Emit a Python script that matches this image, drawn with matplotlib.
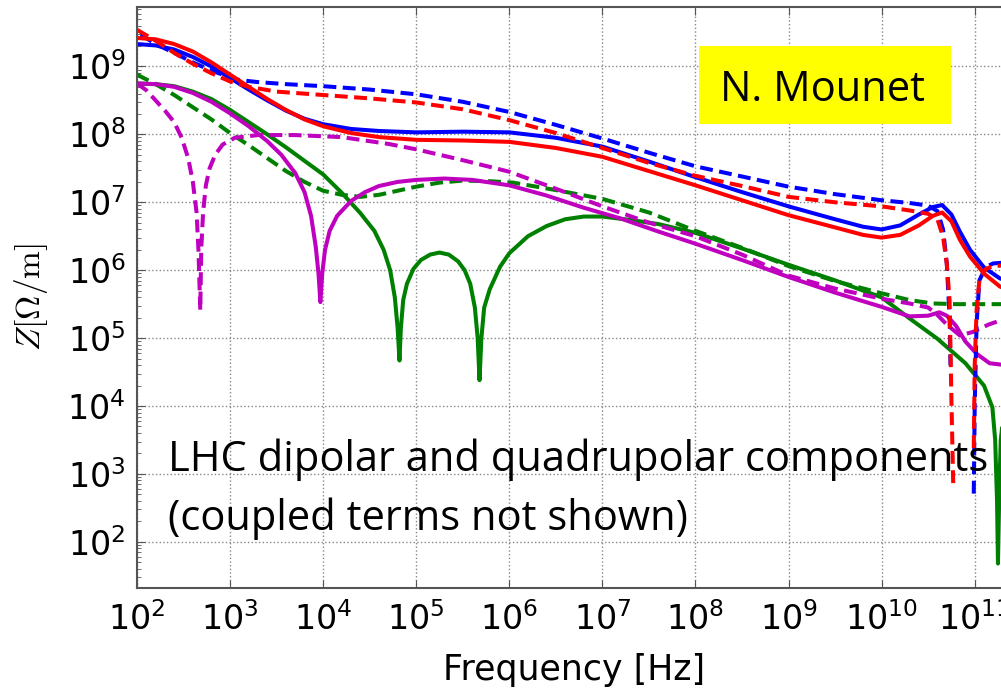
import numpy as np
import matplotlib
matplotlib.use("Agg")
import matplotlib.pyplot as plt
from matplotlib.patches import Rectangle

# values, as log10(f [Hz]) and log10(Z [Ohm/m])
lf_red = [2.0, 2.2, 2.4, 2.6, 2.8, 3.0, 3.2, 3.4, 3.6, 3.8, 4.0, 4.3, 4.6, 5.0, 5.5, 6.0, 6.5, 7.0, 7.5, 8.0, 8.5,
          9.0, 9.5, 9.8, 10.0, 10.2, 10.4, 10.55, 10.65, 10.75, 10.84, 10.95, 11.1, 11.27, 11.4]
lz_red = [9.42, 9.40, 9.33, 9.22, 9.06, 8.88, 8.70, 8.52, 8.36, 8.22, 8.12, 8.02, 7.96, 7.92, 7.91, 7.89, 7.80, 7.67,
          7.46, 7.25, 7.03, 6.81, 6.63, 6.52, 6.48, 6.52, 6.66, 6.80, 6.85, 6.72, 6.45, 6.20, 5.95, 5.76, 5.68]

lf_blue = [2.0, 2.2, 2.4, 2.6, 2.8, 3.0, 3.2, 3.4, 3.6, 3.8, 4.0, 4.3, 4.6, 5.0, 5.5, 6.0, 6.5, 7.0, 7.5, 8.0, 8.5,
           9.0, 9.5, 9.8, 10.0, 10.2, 10.4, 10.55, 10.65, 10.75, 10.84, 10.95, 11.1, 11.27, 11.4]
lz_blue = [9.33, 9.31, 9.25, 9.14, 9.00, 8.83, 8.66, 8.50, 8.35, 8.23, 8.15, 8.08, 8.05, 8.03, 8.04, 8.03, 7.95, 7.82,
           7.60, 7.37, 7.15, 6.94, 6.75, 6.64, 6.60, 6.66, 6.82, 6.93, 6.96, 6.82, 6.57, 6.30, 6.04, 5.88, 5.82]

lf_red_q = [2.0, 2.2, 2.4, 2.6, 2.8, 3.0, 3.2, 3.5, 4.0, 4.5, 5.0, 5.5, 6.0, 6.5, 7.0, 7.5, 8.0, 8.5, 9.0, 9.5, 10.0,
            10.3, 10.5, 10.6, 10.66, 10.7, 10.73, 10.75, 10.77,
            np.nan, 10.99, 11.0, 11.02, 11.05, 11.12, 11.2, 11.4]
lz_red_q = [9.54, 9.38, 9.20, 9.04, 8.90, 8.78, 8.70, 8.63, 8.58, 8.53, 8.47, 8.37, 8.21, 8.02, 7.80, 7.58, 7.39, 7.24,
            7.08, 7.00, 6.94, 6.88, 6.83, 6.75, 6.49, 6.10, 5.56, 4.08, 2.80,
            np.nan, 3.38, 4.6, 5.4, 5.85, 6.02, 6.06, 6.08]

lf_blue_q = [2.04, 2.2, 2.4, 2.6, 2.8, 3.0, 3.1, 3.3, 3.6, 4.0, 4.5, 5.0, 5.5, 6.0, 6.5, 7.0, 7.5, 8.0, 8.5, 9.0, 9.5,
             10.0, 10.3, 10.5, 10.6, 10.66, 10.7, 10.73, 10.74,
             np.nan, 10.99, 11.0, 11.02, 11.05, 11.12, 11.2, 11.4]
lz_blue_q = [9.47, 9.33, 9.20, 9.06, 8.94, 8.84, 8.80, 8.77, 8.74, 8.71, 8.66, 8.59, 8.48, 8.33, 8.14, 7.94, 7.73, 7.53,
             7.38, 7.23, 7.12, 7.03, 6.99, 6.95, 6.87, 6.60, 6.10, 5.31, 4.6,
             np.nan, 2.71, 4.0, 5.2, 5.85, 6.05, 6.10, 6.12]

lf_green = [2.0, 2.2, 2.4, 2.6, 2.8, 3.0, 3.2, 3.4, 3.6, 3.8, 4.0, 4.2, 4.4, 4.55, 4.65, 4.72, 4.77, 4.80, 4.82, 4.835,
            4.86, 4.9, 4.97, 5.05, 5.15, 5.25, 5.35, 5.45, 5.52, 5.58, 5.63, 5.66, 5.68, 5.70, 5.73, 5.79, 5.9, 6.0,
            6.2, 6.4, 6.6, 6.8, 7.0, 7.3, 7.6, 8.0, 8.5, 9.0, 9.5, 10.0, 10.3, 10.6, 10.9, 11.1, 11.19, 11.22, 11.24,
            11.25, 11.265, 11.28, 11.32, 11.4]
lz_green = [8.75, 8.74, 8.71, 8.63, 8.52, 8.36, 8.18, 8.00, 7.81, 7.61, 7.41, 7.14, 6.84, 6.58, 6.30, 6.00, 5.60, 5.15,
            4.67, 5.15, 5.56, 5.80, 6.02, 6.15, 6.23, 6.26, 6.23, 6.13, 6.00, 5.80, 5.45, 5.00, 4.38, 5.00, 5.45, 5.72,
            6.05, 6.25, 6.50, 6.65, 6.75, 6.79, 6.79, 6.74, 6.68, 6.55, 6.32, 6.08, 5.85, 5.60, 5.29, 4.99, 4.63, 4.30,
            3.98, 3.50, 2.60, 1.68, 2.80, 3.50, 4.00, 4.10]

lf_green_q = [2.0, 2.2, 2.4, 2.6, 2.8, 3.0, 3.2, 3.4, 3.6, 3.8, 4.0, 4.2, 4.4, 4.6, 4.8, 5.0, 5.25, 5.5, 5.8, 6.04,
              6.5, 7.0, 7.5, 8.0, 8.5, 9.0, 9.5, 10.0, 10.3, 10.55, 10.8, 11.4]
lz_green_q = [8.88, 8.74, 8.58, 8.40, 8.22, 8.02, 7.84, 7.65, 7.46, 7.30, 7.17, 7.11, 7.08, 7.11, 7.17, 7.23, 7.29,
              7.32, 7.31, 7.29, 7.18, 7.05, 6.85, 6.58, 6.33, 6.06, 5.84, 5.66, 5.56, 5.51, 5.50, 5.50]

lf_mag = [2.0, 2.2, 2.4, 2.6, 2.8, 3.0, 3.2, 3.4, 3.55, 3.7, 3.8, 3.87, 3.92, 3.95, 3.97, 3.99, 4.02, 4.07, 4.15, 4.3,
          4.45, 4.6, 4.8, 5.0, 5.3, 5.6, 6.0, 6.4, 6.8, 7.2, 7.6, 8.0, 8.5, 9.0, 9.5, 10.0, 10.3, 10.5, 10.62, 10.7,
          10.8, 10.9, 11.02, 11.16, 11.4]
lz_mag = [8.75, 8.74, 8.70, 8.61, 8.48, 8.31, 8.12, 7.90, 7.70, 7.43, 7.15, 6.80, 6.35, 5.95, 5.53, 5.95, 6.30, 6.58,
          6.80, 7.02, 7.15, 7.24, 7.30, 7.33, 7.35, 7.33, 7.25, 7.10, 6.92, 6.76, 6.57, 6.39, 6.15, 5.90, 5.67, 5.46,
          5.32, 5.33, 5.38, 5.33, 5.18, 4.95, 4.77, 4.63, 4.59]

lf_mag_q = [2.0, 2.1, 2.2, 2.3, 2.4, 2.48, 2.55, 2.6, 2.64, 2.66, 2.68, 2.69, 2.71, 2.74, 2.78, 2.84, 2.92, 3.05, 3.3,
            3.7, 4.2, 4.7, 5.0, 5.5, 6.0, 6.5, 7.0, 7.5, 8.0, 8.5, 9.0, 9.5, 10.0, 10.3, 10.5, 10.6, 10.7, 10.84,
            10.98, 11.15, 11.4]
lz_mag_q = [8.75, 8.65, 8.50, 8.35, 8.18, 7.95, 7.65, 7.30, 6.85, 6.30, 5.41, 6.30, 6.85, 7.25, 7.50, 7.70, 7.85,
            7.95, 7.99, 7.99, 7.96, 7.86, 7.78, 7.62, 7.45, 7.20, 6.94, 6.70, 6.50, 6.23, 5.92, 5.73, 5.58, 5.51,
            5.45, 5.34, 5.20, 5.04, 5.09, 5.20, 5.32]

fig = plt.figure(figsize=(10.01, 6.88), dpi=100)
ax = fig.add_axes([137 / 1001, 1 - 588 / 688, 874 / 1001, 581 / 688])

lw = 2.9
dash = (0, (3.2, 1.6))
series = [
    (lf_green, lz_green, '#008000', '-'),
    (lf_green_q, lz_green_q, '#008000', dash),
    (lf_mag, lz_mag, '#bf00bf', '-'),
    (lf_mag_q, lz_mag_q, '#bf00bf', dash),
    (lf_blue, lz_blue, '#0000ff', '-'),
    (lf_blue_q, lz_blue_q, '#0000ff', dash),
    (lf_red, lz_red, '#ff0000', '-'),
    (lf_red_q, lz_red_q, '#ff0000', dash),
]
for lf, lz, c, ls in series:
    ax.plot(10 ** np.array(lf), 10 ** np.array(lz), color=c, ls=ls, lw=lw)

ax.set_xscale('log')
ax.set_yscale('log')
ax.set_xlim(1e2, 10 ** 11.39)
ax.set_ylim(10 ** 1.32, 10 ** 9.876)
ax.set_xticks([10.0 ** k for k in range(2, 12)])
ax.set_yticks([10.0 ** k for k in range(2, 10)])
ax.grid(True, which='major', ls=':', color='#888888', lw=1)

for s in ax.spines.values():
    s.set_color('#555555')
    s.set_linewidth(1.5)
ax.tick_params(which='both', direction='in', top=True, right=True, color='#555555')
ax.tick_params(which='major', length=6, labelsize=24)
ax.tick_params(which='minor', length=3)
ax.tick_params(axis='x', which='major', pad=10)
ax.tick_params(axis='y', which='major', pad=8)

ax.set_xlabel('Frequency [Hz]', fontsize=25)
ax.xaxis.set_label_coords(0.5, -0.112)
ax.set_ylabel(r'$Z[\Omega/\mathrm{m}]$', fontsize=24, math_fontfamily='cm')
ax.yaxis.set_label_coords(-0.100, 0.5)

fig.patches.append(Rectangle((699 / 1001, 1 - 124 / 688), 252 / 1001, 78 / 688,
                             transform=fig.transFigure, facecolor='#ffff00', edgecolor='none', zorder=5))
fig.text(720 / 1001, 1 - 101 / 688, 'N. Mounet', fontsize=30, family='Open Sans', va='baseline', zorder=6)
fig.text(168 / 1001, 1 - 471 / 688, 'LHC dipolar and quadrupolar components', fontsize=30,
         family='Open Sans', va='baseline')
fig.text(168 / 1001, 1 - 530 / 688, '(coupled terms not shown)', fontsize=30,
         family='Open Sans', va='baseline')

fig.savefig('out.png', dpi=100)
